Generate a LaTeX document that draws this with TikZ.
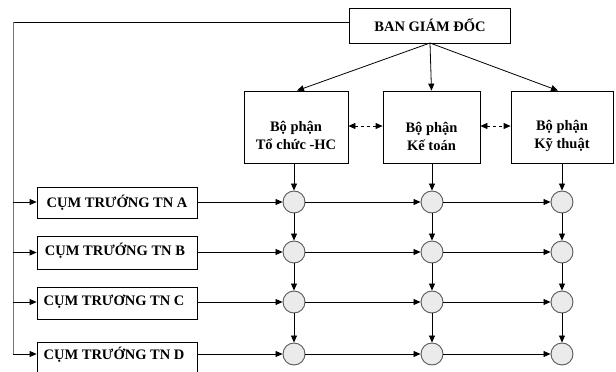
\documentclass[tikz,border=0pt]{standalone}
\usepackage{fontspec}
\setmainfont{Liberation Serif}
\usetikzlibrary{arrows.meta,calc}
\begin{document}
\begin{tikzpicture}[x=1pt,y=-1pt,
  box/.style={draw=black,line width=0.8pt,fill=white,inner sep=0pt},
  txt/.style={font=\bfseries\fontsize{14.5}{18}\selectfont,align=center,inner sep=0pt},
  circ/.style={circle,draw=black!65,line width=0.9pt,fill=black!8,minimum size=22pt,inner sep=0pt},
  arr/.style={line width=0.8pt,-{Triangle[length=7pt,width=6pt]}},
  dasharr/.style={line width=0.8pt,dash pattern=on 3pt off 3pt,{Triangle[length=7pt,width=6pt]}-{Triangle[length=7pt,width=6pt]}}
]
\useasboundingbox (0,0) rectangle (616,372);
% top box
\node[box,minimum width=161pt,minimum height=35pt] (bgd) at (430,25.5) {};
\node[txt] (bgdt) at (bgd.center) {BAN GIÁM ĐỐC};
% departments
\node[box,minimum width=104pt,minimum height=72pt] (dep1) at (296,127) {};
\node[box,minimum width=97pt,minimum height=72pt] (dep2) at (431.5,127) {};
\node[box,minimum width=102pt,minimum height=72pt] (dep3) at (562,127) {};
\node[txt] (dep1t) at (296,135) {Bộ phận\\Tổ chức -HC};
\node[txt] (dep2t) at (431.5,136) {Bộ phận\\Kế toán};
\node[txt] (dep3t) at (562,136) {Bộ phận\\Kỹ thuật};
\coordinate (top) at (430,43);
\draw[arr] (top) -- ([xshift=1pt]dep1.north);
\draw[arr] (top) -- (dep2.north);
\draw[arr] (top) -- ([xshift=-4pt]dep3.north);
\draw[dasharr] ([yshift=1pt]dep1.east) -- ([yshift=1pt]dep2.west);
\draw[dasharr] ([yshift=1pt]dep2.east) -- ([yshift=1pt]dep3.west);
% cluster boxes
\node[box,minimum width=160pt,minimum height=31pt] (ca) at (117,202.5) {};
\node[box,minimum width=160pt,minimum height=33pt] (cb) at (117,252.5) {};
\node[box,minimum width=160pt,minimum height=32pt] (cc) at (117,303) {};
\node[box,minimum width=160pt,minimum height=32pt] (cd) at (117,358) {};
\node[txt] (cat) at (117,203) {CỤM TRƯỚNG TN A};
\node[txt] (cbt) at (115,251) {CỤM TRƯỚNG TN B};
\node[txt] (cct) at (114,302) {CỤM TRƯƠNG TN C};
\node[txt] (cdt) at (114,355) {CỤM TRƯỚNG TN D};
% circles
\foreach \r/\y in {A/202,B/252,C/302,D/354}{
  \node[circ] (n\r1) at (294,\y) {};
  \node[circ] (n\r2) at (432,\y) {};
  \node[circ] (n\r3) at (562,\y) {};
}
% left bus
\coordinate (lt) at (13,22);
\coordinate (lb) at (13,354);
\draw[line width=0.8pt] (bgd.west |- lt) -- (lt);
\draw[line width=1pt,black!55] (lt) -- (lb);
\draw[arr] (lt |- nA1) -- (ca.west |- nA1);
\draw[arr] (lt |- cb.west) -- (cb.west);
\draw[arr] (lt |- nC1) -- (cc.west |- nC1);
\draw[arr] (lb) -- (cd.west |- lb);
% vertical arrows
\draw[arr] (dep1.south -| nA1) -- (nA1);
\draw[arr] (dep2.south -| nA2) -- (nA2);
\draw[arr] (dep3.south -| nA3) -- (nA3);
\foreach \c in {1,2,3}{
  \draw[arr] (nA\c) -- (nB\c);
  \draw[arr] (nB\c) -- (nC\c);
  \draw[arr] (nC\c) -- (nD\c);
}
% horizontal arrows
\draw[arr] (ca.east |- nA1) -- (nA1);
\draw[arr] (cb.east |- nB1) -- (nB1);
\draw[arr] (cc.east |- nC1) -- (nC1);
\draw[arr] (cd.east |- nD1) -- (nD1);
\foreach \r in {A,B,C,D}{
  \draw[arr] (n\r1) -- (n\r2);
  \draw[arr] (n\r2) -- (n\r3);
}
\end{tikzpicture}
\end{document}
